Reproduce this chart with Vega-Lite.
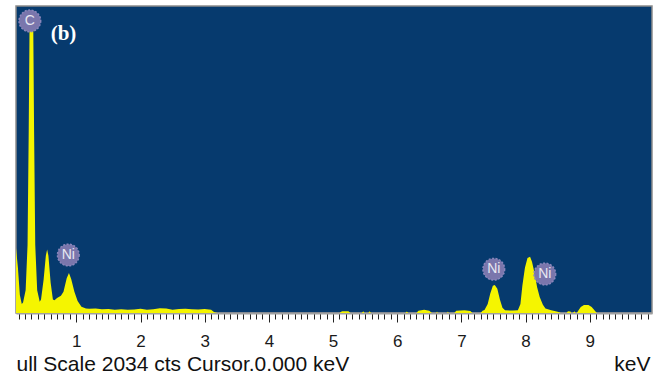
{
  "$schema": "https://vega.github.io/schema/vega-lite/v6.json",
  "width": 636,
  "height": 307,
  "autosize": {"type": "none"},
  "padding": {"left": 16, "top": 6, "right": 9, "bottom": 60},
  "background": "white",
  "config": {
    "view": {"fill": "#063a6e", "stroke": "#8c8c8c", "strokeWidth": 1.5},
    "font": "Liberation Sans"
  },
  "datasets": {
    "spectrum": [
      {"keV": 0.06, "counts": 430}, {"keV": 0.09, "counts": 300}, {"keV": 0.12, "counts": 120}, {"keV": 0.15, "counts": 60},
      {"keV": 0.17, "counts": 70}, {"keV": 0.21, "counts": 150}, {"keV": 0.24, "counts": 450}, {"keV": 0.258, "counts": 1200},
      {"keV": 0.272, "counts": 1950}, {"keV": 0.328, "counts": 1950}, {"keV": 0.342, "counts": 1200},
      {"keV": 0.36, "counts": 450}, {"keV": 0.39, "counts": 150}, {"keV": 0.43, "counts": 75},
      {"keV": 0.45, "counts": 90}, {"keV": 0.49, "counts": 220}, {"keV": 0.525, "counts": 380}, {"keV": 0.545, "counts": 420},
      {"keV": 0.565, "counts": 380}, {"keV": 0.60, "counts": 200}, {"keV": 0.635, "counts": 90}, {"keV": 0.66, "counts": 85},
      {"keV": 0.70, "counts": 100}, {"keV": 0.76, "counts": 115}, {"keV": 0.80, "counts": 140}, {"keV": 0.85, "counts": 230},
      {"keV": 0.885, "counts": 265}, {"keV": 0.92, "counts": 225}, {"keV": 0.97, "counts": 140}, {"keV": 1.02, "counts": 80},
      {"keV": 1.08, "counts": 42}, {"keV": 1.15, "counts": 30}, {"keV": 1.2, "counts": 28}, {"keV": 1.3, "counts": 30},
      {"keV": 1.4, "counts": 25}, {"keV": 1.5, "counts": 27}, {"keV": 1.6, "counts": 22}, {"keV": 1.7, "counts": 25},
      {"keV": 1.8, "counts": 22}, {"keV": 1.9, "counts": 24}, {"keV": 2.0, "counts": 28}, {"keV": 2.1, "counts": 22},
      {"keV": 2.2, "counts": 25}, {"keV": 2.3, "counts": 32}, {"keV": 2.4, "counts": 30}, {"keV": 2.5, "counts": 22},
      {"keV": 2.6, "counts": 26}, {"keV": 2.7, "counts": 28}, {"keV": 2.8, "counts": 25}, {"keV": 2.9, "counts": 24},
      {"keV": 3.0, "counts": 26}, {"keV": 3.1, "counts": 22}, {"keV": 3.15, "counts": 5}, {"keV": 3.2, "counts": 0},
      {"keV": 5.1, "counts": 0}, {"keV": 5.14, "counts": 12}, {"keV": 5.24, "counts": 12}, {"keV": 5.27, "counts": 0},
      {"keV": 5.45, "counts": 0}, {"keV": 5.47, "counts": 12}, {"keV": 5.49, "counts": 0},
      {"keV": 5.55, "counts": 0}, {"keV": 5.57, "counts": 12}, {"keV": 5.59, "counts": 0},
      {"keV": 6.13, "counts": 0}, {"keV": 6.15, "counts": 10}, {"keV": 6.17, "counts": 0},
      {"keV": 6.3, "counts": 0}, {"keV": 6.33, "counts": 15}, {"keV": 6.42, "counts": 22}, {"keV": 6.5, "counts": 15}, {"keV": 6.54, "counts": 0},
      {"keV": 6.61, "counts": 0}, {"keV": 6.62, "counts": 10}, {"keV": 6.63, "counts": 0},
      {"keV": 6.78, "counts": 0}, {"keV": 6.79, "counts": 10}, {"keV": 6.8, "counts": 0},
      {"keV": 6.89, "counts": 0}, {"keV": 6.92, "counts": 15}, {"keV": 7.05, "counts": 18}, {"keV": 7.14, "counts": 14}, {"keV": 7.17, "counts": 0},
      {"keV": 7.3, "counts": 0}, {"keV": 7.33, "counts": 15}, {"keV": 7.36, "counts": 20}, {"keV": 7.41, "counts": 60},
      {"keV": 7.45, "counts": 130}, {"keV": 7.49, "counts": 180}, {"keV": 7.52, "counts": 185}, {"keV": 7.56, "counts": 160},
      {"keV": 7.60, "counts": 90}, {"keV": 7.64, "counts": 35}, {"keV": 7.68, "counts": 18}, {"keV": 7.8, "counts": 16},
      {"keV": 7.88, "counts": 18}, {"keV": 7.92, "counts": 60}, {"keV": 7.95, "counts": 180}, {"keV": 7.99, "counts": 300},
      {"keV": 8.03, "counts": 365}, {"keV": 8.07, "counts": 372}, {"keV": 8.10, "counts": 340}, {"keV": 8.14, "counts": 265},
      {"keV": 8.18, "counts": 170}, {"keV": 8.22, "counts": 106}, {"keV": 8.27, "counts": 55}, {"keV": 8.31, "counts": 30},
      {"keV": 8.40, "counts": 18}, {"keV": 8.50, "counts": 8}, {"keV": 8.55, "counts": 0},
      {"keV": 8.64, "counts": 0}, {"keV": 8.66, "counts": 12}, {"keV": 8.70, "counts": 10}, {"keV": 8.71, "counts": 0},
      {"keV": 8.74, "counts": 0}, {"keV": 8.76, "counts": 12}, {"keV": 8.78, "counts": 0},
      {"keV": 8.80, "counts": 0}, {"keV": 8.82, "counts": 15}, {"keV": 8.86, "counts": 40}, {"keV": 8.91, "counts": 53},
      {"keV": 8.98, "counts": 53}, {"keV": 9.03, "counts": 40}, {"keV": 9.08, "counts": 15}, {"keV": 9.11, "counts": 0},
      {"keV": 9.97, "counts": 0}
    ],
    "labels": [
      {"keV": 0.276, "counts": 1935, "element": "C"},
      {"keV": 0.875, "counts": 384, "element": "Ni"},
      {"keV": 7.505, "counts": 290, "element": "Ni"},
      {"keV": 8.30, "counts": 258, "element": "Ni"}
    ],
    "tag": [
      {"keV": 0.60, "counts": 1848, "text": "(b)"}
    ]
  },
  "layer": [
    {
      "data": {"name": "spectrum"},
      "mark": {"type": "area", "color": "#f5f500", "interpolate": "linear", "clip": true},
      "encoding": {
        "x": {
          "field": "keV", "type": "quantitative",
          "scale": {"domain": [0.06, 9.97], "nice": false, "zero": false},
          "axis": {
            "orient": "bottom",
            "values": [0.1,0.2,0.3,0.4,0.5,0.6,0.7,0.8,0.9,1,1.1,1.2,1.3,1.4,1.5,1.6,1.7,1.8,1.9,2,2.1,2.2,2.3,2.4,2.5,2.6,2.7,2.8,2.9,3,3.1,3.2,3.3,3.4,3.5,3.6,3.7,3.8,3.9,4,4.1,4.2,4.3,4.4,4.5,4.6,4.7,4.8,4.9,5,5.1,5.2,5.3,5.4,5.5,5.6,5.7,5.8,5.9,6,6.1,6.2,6.3,6.4,6.5,6.6,6.7,6.8,6.9,7,7.1,7.2,7.3,7.4,7.5,7.6,7.7,7.8,7.9,8,8.1,8.2,8.3,8.4,8.5,8.6,8.7,8.8,8.9,9,9.1,9.2,9.3,9.4,9.5,9.6,9.7,9.8,9.9],
            "tickCount": 500,
            "labelExpr": "round(datum.value*10) % 10 == 0 ? format(datum.value, 'd') : ''",
            "labelOverlap": false,
            "labelFlush": false,
            "labelFont": "Liberation Sans",
            "labelFontSize": 17,
            "labelColor": "#1a1a1a",
            "labelPadding": 11,
            "grid": false,
            "domainColor": "#a0a0a0",
            "domainWidth": 2,
            "tickColor": "#222222",
            "tickWidth": 1,
            "tickSize": {"condition": {"test": "round(datum.value*10) % 10 == 0", "value": 9}, "value": 6},
            "title": "keV",
            "titleFont": "Liberation Sans",
            "titleFontSize": 21,
            "titleFontWeight": "normal",
            "titleColor": "#111111",
            "titleAnchor": "end",
            "titleAlign": "right",
            "titleBaseline": "alphabetic",
            "titleX": 634,
            "titleY": 57
          }
        },
        "y": {
          "field": "counts", "type": "quantitative",
          "scale": {"domain": [0, 2034], "nice": false},
          "axis": {
            "orient": "left",
            "labels": false, "ticks": false, "domain": false, "grid": false,
            "title": "ull Scale 2034 cts Cursor.0.000 keV",
            "titleAngle": 0,
            "titleX": 0,
            "titleY": 364,
            "titleAlign": "left",
            "titleBaseline": "alphabetic",
            "titleFont": "Liberation Sans",
            "titleFontSize": 21,
            "titleFontWeight": "normal",
            "titleColor": "#111111"
          }
        }
      }
    },
    {
      "data": {"name": "labels"},
      "mark": {"type": "point", "shape": "circle", "filled": true, "size": 470, "color": "#7a76ac", "opacity": 1, "stroke": "#8a86bb", "strokeWidth": 1.5, "strokeDash": [2, 1.5]},
      "encoding": {
        "x": {"field": "keV", "type": "quantitative"},
        "y": {"field": "counts", "type": "quantitative"}
      }
    },
    {
      "data": {"name": "labels"},
      "mark": {"type": "text", "font": "Liberation Sans", "fontSize": 14, "color": "#e8e8f2", "align": "center", "baseline": "middle"},
      "encoding": {
        "x": {"field": "keV", "type": "quantitative"},
        "y": {"field": "counts", "type": "quantitative"},
        "text": {"field": "element"}
      }
    },
    {
      "data": {"name": "tag"},
      "mark": {"type": "text", "font": "Liberation Serif", "fontWeight": "bold", "fontSize": 21, "color": "#ffffff", "align": "left", "baseline": "middle"},
      "encoding": {
        "x": {"field": "keV", "type": "quantitative"},
        "y": {"field": "counts", "type": "quantitative"},
        "text": {"field": "text"}
      }
    }
  ]
}
